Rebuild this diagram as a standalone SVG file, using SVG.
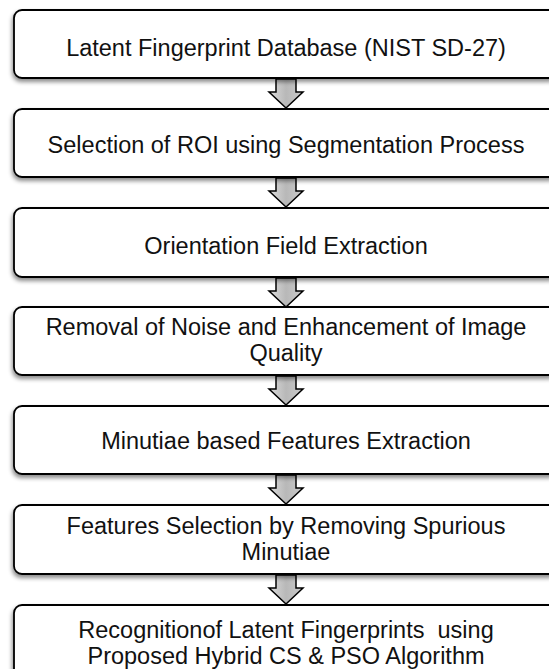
<svg xmlns="http://www.w3.org/2000/svg" width="549" height="669" viewBox="0 0 549 669">
<defs>
<filter id="sh" x="-5%" y="-10%" width="110%" height="130%">
<feDropShadow dx="-1" dy="3" stdDeviation="2" flood-color="#000" flood-opacity="0.45"/>
</filter>
<linearGradient id="ag" x1="0" y1="0" x2="1" y2="0">
<stop offset="0" stop-color="#dcdcdc"/>
<stop offset="0.5" stop-color="#b8b8b8"/>
<stop offset="1" stop-color="#cacaca"/>
</linearGradient>
<path id="arr" d="M-10,0 H10 V13 H17 L0,29 L-17,13 H-10 Z"/>
</defs>
<style>
.box{fill:#fff;stroke:#000;stroke-width:1.8;filter:url(#sh)}
.t{font-family:"Liberation Sans",Arial,sans-serif;font-size:23.5px;fill:#111;text-anchor:middle;white-space:pre}
.a{fill:url(#ag);stroke:#000;stroke-width:1.5;stroke-linejoin:miter}
</style>
<rect width="549" height="669" fill="#fff"/>
<g id="connectors">
<use href="#arr" class="a" x="286" y="79"/>
<use href="#arr" class="a" x="286" y="178"/>
<use href="#arr" class="a" x="286" y="278"/>
<use href="#arr" class="a" x="286" y="376"/>
<use href="#arr" class="a" x="286" y="475"/>
<use href="#arr" class="a" x="286" y="575"/>
</g>
<g id="n1"><rect class="box" x="14" y="10" width="544" height="68" rx="8"/><text class="t" x="286" y="56">Latent Fingerprint Database (NIST SD-27)</text></g>
<g id="n2"><rect class="box" x="14" y="109" width="544" height="68" rx="8"/><text class="t" x="286" y="153">Selection of ROI using Segmentation Process</text></g>
<g id="n3"><rect class="box" x="14" y="208" width="544" height="69" rx="8"/><text class="t" x="286" y="254">Orientation Field Extraction</text></g>
<g id="n4"><rect class="box" x="14" y="307" width="544" height="68" rx="8"/><text class="t" x="286" y="335">Removal of Noise and Enhancement of Image</text><text class="t" x="286" y="361">Quality</text></g>
<g id="n5"><rect class="box" x="14" y="406" width="544" height="68" rx="8"/><text class="t" x="286" y="449">Minutiae based Features Extraction</text></g>
<g id="n6"><rect class="box" x="14" y="505" width="544" height="69" rx="8"/><text class="t" x="286" y="534">Features Selection by Removing Spurious</text><text class="t" x="286" y="560">Minutiae</text></g>
<g id="n7"><rect class="box" x="14" y="605" width="544" height="90" rx="8"/><text class="t" x="286" y="638">Recognitionof Latent Fingerprints  using</text><text class="t" x="286" y="664">Proposed Hybrid CS &amp; PSO Algorithm</text></g>
</svg>
